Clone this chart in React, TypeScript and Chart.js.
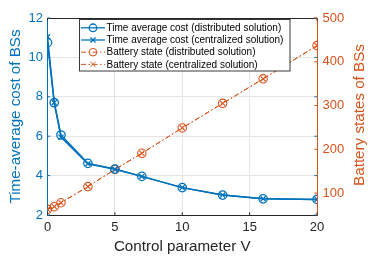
import React, { useEffect, useRef } from "react";
import { Chart, registerables } from "chart.js";

Chart.register(...registerables);

const vValues = [0, 0.5, 1, 3, 5, 7, 10, 13, 16, 20];
const costDistributed = [10.75, 7.7, 6.06, 4.62, 4.33, 3.96, 3.39, 3.01, 2.82, 2.79];
const costCentralized = [11.05, 7.7, 5.95, 4.6, 4.32, 3.96, 3.39, 3.01, 2.82, 2.79];
const batteryDistributed = [63, 69, 78, 115, 154, 191, 249, 305, 361, 437];
const batteryCentralized = [63, 69, 78, 115, 154, 191, 249, 305, 361, 437];
const xTicks = [0, 5, 10, 15, 20];
const leftTicks = [2, 4, 6, 8, 10, 12];
const rightTicks = [100, 200, 300, 400, 500];
const legendLabels = [
  "Time average cost (distributed solution)",
  "Time average cost (centralized solution)",
  "Battery state (distributed solution)",
  "Battery state (centralized solution)",
];

const BLUE = "#0072BD";
const ORANGE = "#D95319";
const DARK = "#262626";
const FONT = "'Liberation Sans', Arial, Helvetica, sans-serif";
const TITLE_SIZE = 15.2;

const pts = (ys: number[]) => vValues.map((x, i) => ({ x, y: ys[i] }));

function drawMarker(ctx: CanvasRenderingContext2D, style: string, x: number, y: number, r: number) {
  ctx.beginPath();
  if (style === "circle") {
    ctx.arc(x, y, r, 0, Math.PI * 2);
  } else {
    const d = r * 0.75;
    ctx.moveTo(x - d, y - d);
    ctx.lineTo(x + d, y + d);
    ctx.moveTo(x + d, y - d);
    ctx.lineTo(x - d, y + d);
  }
  ctx.stroke();
}

const overlayPlugin = {
  id: "overlay",
  afterDraw(chart: any) {
    const { ctx, chartArea } = chart;
    const { left, right, top, bottom } = chartArea;
    const xs = chart.scales.x;
    const yl = chart.scales.y;
    const yr = chart.scales.y1;
    ctx.save();
    // top border
    ctx.strokeStyle = DARK;
    ctx.lineWidth = 1;
    ctx.beginPath();
    ctx.moveTo(left, top + 0.5);
    ctx.lineTo(right, top + 0.5);
    ctx.stroke();
    // inward ticks
    const tl = 2.7;
    ctx.strokeStyle = DARK;
    xTicks.forEach((v) => {
      const px = xs.getPixelForValue(v);
      ctx.beginPath();
      ctx.moveTo(px, bottom);
      ctx.lineTo(px, bottom - tl);
      ctx.moveTo(px, top);
      ctx.lineTo(px, top + tl);
      ctx.stroke();
    });
    ctx.strokeStyle = BLUE;
    leftTicks.forEach((v) => {
      const py = yl.getPixelForValue(v);
      ctx.beginPath();
      ctx.moveTo(left, py);
      ctx.lineTo(left + tl, py);
      ctx.moveTo(right, py);
      ctx.lineTo(right - tl, py);
      ctx.stroke();
    });
    ctx.strokeStyle = ORANGE;
    rightTicks.forEach((v) => {
      const py = yr.getPixelForValue(v);
      ctx.beginPath();
      ctx.moveTo(right, py);
      ctx.lineTo(right - tl, py);
      ctx.stroke();
    });
    // right axis title
    ctx.fillStyle = ORANGE;
    ctx.font = `${TITLE_SIZE}px ${FONT}`;
    ctx.textAlign = "center";
    ctx.textBaseline = "middle";
    ctx.translate(360, 115);
    ctx.rotate(-Math.PI / 2);
    ctx.fillText("Battery states of BSs", 0, 0);
    ctx.restore();

    // legend
    ctx.save();
    const bx = 79, by = 19.5, bw = 210.5, bh = 51.5;
    ctx.fillStyle = "#ffffff";
    ctx.fillRect(bx, by, bw, bh);
    ctx.strokeStyle = "#3a3a3a";
    ctx.lineWidth = 1;
    ctx.strokeRect(bx + 0.5, by, bw, bh);
    const styles = [
      { color: BLUE, dash: [] as number[], marker: "circle", lw: 1.3 },
      { color: BLUE, dash: [] as number[], marker: "cross", lw: 1.3 },
      { color: ORANGE, dash: [5, 2.5, 1.5, 2.5], marker: "circle", lw: 1 },
      { color: ORANGE, dash: [5, 2.5, 1.5, 2.5], marker: "cross", lw: 1 },
    ];
    ctx.font = `10px ${FONT}`;
    ctx.textBaseline = "middle";
    ctx.textAlign = "left";
    styles.forEach((s, i) => {
      const ry = 27.8 + i * 12.2;
      ctx.strokeStyle = s.color;
      ctx.lineWidth = s.lw;
      ctx.setLineDash(s.dash);
      ctx.beginPath();
      ctx.moveTo(81, ry);
      ctx.lineTo(105, ry);
      ctx.stroke();
      ctx.setLineDash([]);
      drawMarker(ctx, s.marker, 93, ry, s.marker === "circle" ? 3.8 : 3.4);
      ctx.fillStyle = "#000000";
      ctx.fillText(legendLabels[i], 106.5, ry + 0.5);
    });
    ctx.restore();
  },
};

export default function App() {
  const ref = useRef<HTMLCanvasElement | null>(null);
  useEffect(() => {
    if (!ref.current) return;
    const chart = new Chart(ref.current, {
      type: "line",
      data: {
        datasets: [
          {
            label: legendLabels[0],
            data: pts(costDistributed),
            yAxisID: "y",
            borderColor: BLUE,
            backgroundColor: "transparent",
            borderWidth: 1.5,
            pointStyle: "circle",
            pointRadius: 4.2,
            pointBorderWidth: 1.3,
            pointBorderColor: BLUE,
            pointBackgroundColor: "transparent",
            tension: 0,
          },
          {
            label: legendLabels[1],
            data: pts(costCentralized),
            yAxisID: "y",
            borderColor: BLUE,
            backgroundColor: "transparent",
            borderWidth: 1.5,
            pointStyle: "crossRot",
            pointRadius: 3.6,
            pointBorderWidth: 1.3,
            pointBorderColor: BLUE,
            tension: 0,
          },
          {
            label: legendLabels[2],
            data: pts(batteryDistributed),
            yAxisID: "y1",
            borderColor: ORANGE,
            backgroundColor: "transparent",
            borderWidth: 1,
            borderDash: [5, 2.5, 1.5, 2.5],
            pointStyle: "circle",
            pointRadius: 4.2,
            pointBorderWidth: 1.1,
            pointBorderColor: ORANGE,
            pointBackgroundColor: "transparent",
            tension: 0,
          },
          {
            label: legendLabels[3],
            data: pts(batteryCentralized),
            yAxisID: "y1",
            borderColor: ORANGE,
            backgroundColor: "transparent",
            borderWidth: 1,
            borderDash: [5, 2.5, 1.5, 2.5],
            pointStyle: "crossRot",
            pointRadius: 3.6,
            pointBorderWidth: 1.1,
            pointBorderColor: ORANGE,
            tension: 0,
          },
        ],
      },
      options: {
        responsive: false,
        animation: false,
        devicePixelRatio: 1,
        layout: { padding: { top: 18, left: 0, right: 0, bottom: 0 } },
        plugins: { legend: { display: false }, tooltip: { enabled: false } },
        scales: {
          x: {
            type: "linear",
            min: 0,
            max: 20,
            afterBuildTicks: (s: any) => {
              s.ticks = xTicks.map((v) => ({ value: v }));
            },
            afterFit: (s: any) => {
              s.height = 46;
            },
            grid: { color: "#e5e5e5", drawTicks: false, lineWidth: 1 },
            border: { color: DARK, width: 1 },
            ticks: { color: DARK, font: { family: FONT, size: 13 }, padding: 5, maxRotation: 0 },
            title: {
              display: true,
              text: "Control parameter V",
              color: DARK,
              font: { family: FONT, size: TITLE_SIZE },
              padding: { top: 0, bottom: 4.9 },
            },
          },
          y: {
            type: "linear",
            position: "left",
            min: 2,
            max: 12,
            afterBuildTicks: (s: any) => {
              s.ticks = leftTicks.map((v) => ({ value: v }));
            },
            afterFit: (s: any) => {
              s.width = 47.5;
            },
            grid: { color: "#e5e5e5", drawTicks: false, lineWidth: 1 },
            border: { color: BLUE, width: 1 },
            ticks: { color: BLUE, font: { family: FONT, size: 13 }, padding: 4.5 },
            title: {
              display: true,
              text: "Time-average cost of BSs",
              color: BLUE,
              font: { family: FONT, size: TITLE_SIZE },
              padding: { top: 6.9, bottom: 0 },
            },
          },
          y1: {
            type: "linear",
            position: "right",
            min: 50,
            max: 500,
            afterBuildTicks: (s: any) => {
              s.ticks = rightTicks.map((v) => ({ value: v }));
            },
            afterFit: (s: any) => {
              s.width = 57;
            },
            grid: { display: false, drawTicks: false },
            border: { color: ORANGE, width: 1 },
            ticks: { color: ORANGE, font: { family: FONT, size: 13 }, padding: 5.5 },
          },
        },
      },
      plugins: [overlayPlugin],
    } as any);
    return () => chart.destroy();
  }, []);
  return (
    <div style={{ position: "fixed", left: 0, top: 0, width: 374, height: 261, background: "#fff" }}>
      <canvas ref={ref} width={374} height={261} style={{ width: 374, height: 261, display: "block" }} />
    </div>
  );
}
